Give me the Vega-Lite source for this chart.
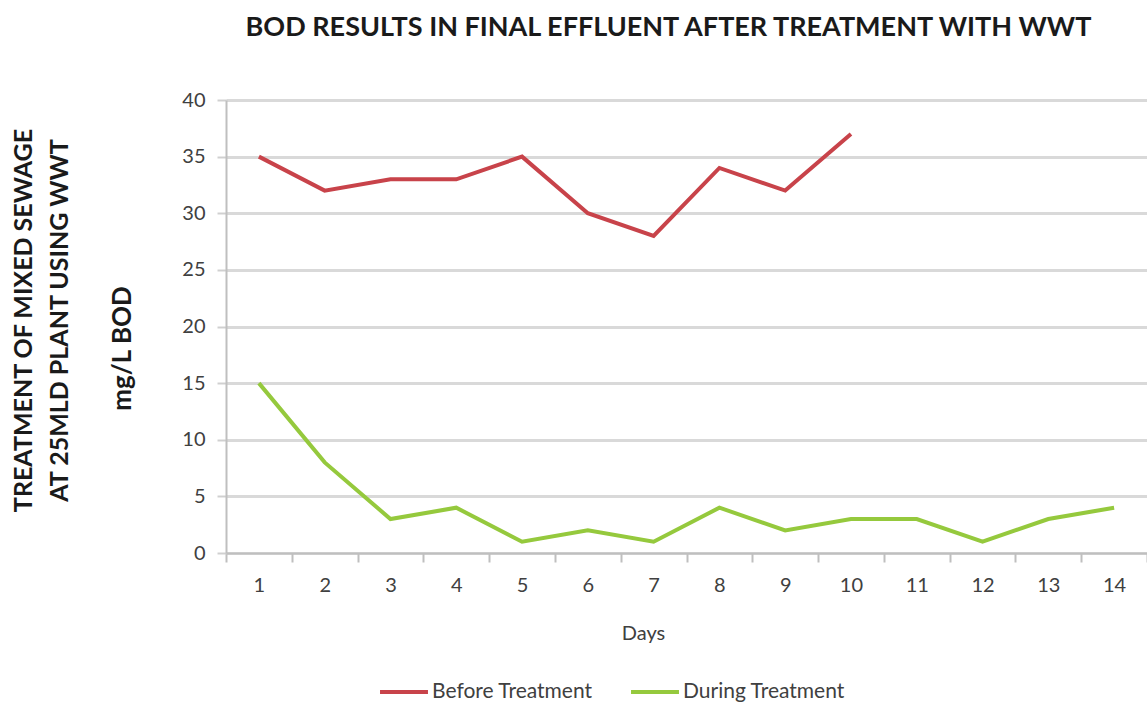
{
  "$schema": "https://vega.github.io/schema/vega-lite/v6.json",
  "autosize": "none",
  "width": 921,
  "height": 453,
  "padding": {"left": 226, "top": 100, "right": 0, "bottom": 152},
  "background": "white",
  "config": {
    "view": {"stroke": null},
    "font": "Lato"
  },
  "title": {
    "text": "BOD RESULTS IN FINAL EFFLUENT  AFTER TREATMENT WITH WWT",
    "font": "Lato",
    "fontSize": 27,
    "fontWeight": "bold",
    "color": "#1a1a1a",
    "anchor": "middle",
    "dx": -18,
    "offset": 48
  },
  "data": {
    "values": [
      {"day": "1", "series": "Before Treatment", "bod": 35},
      {"day": "2", "series": "Before Treatment", "bod": 32},
      {"day": "3", "series": "Before Treatment", "bod": 33},
      {"day": "4", "series": "Before Treatment", "bod": 33},
      {"day": "5", "series": "Before Treatment", "bod": 35},
      {"day": "6", "series": "Before Treatment", "bod": 30},
      {"day": "7", "series": "Before Treatment", "bod": 28},
      {"day": "8", "series": "Before Treatment", "bod": 34},
      {"day": "9", "series": "Before Treatment", "bod": 32},
      {"day": "10", "series": "Before Treatment", "bod": 37},
      {"day": "1", "series": "During Treatment", "bod": 15},
      {"day": "2", "series": "During Treatment", "bod": 8},
      {"day": "3", "series": "During Treatment", "bod": 3},
      {"day": "4", "series": "During Treatment", "bod": 4},
      {"day": "5", "series": "During Treatment", "bod": 1},
      {"day": "6", "series": "During Treatment", "bod": 2},
      {"day": "7", "series": "During Treatment", "bod": 1},
      {"day": "8", "series": "During Treatment", "bod": 4},
      {"day": "9", "series": "During Treatment", "bod": 2},
      {"day": "10", "series": "During Treatment", "bod": 3},
      {"day": "11", "series": "During Treatment", "bod": 3},
      {"day": "12", "series": "During Treatment", "bod": 1},
      {"day": "13", "series": "During Treatment", "bod": 3},
      {"day": "14", "series": "During Treatment", "bod": 4}
    ]
  },
  "resolve": {"axis": {"y": "independent"}},
  "layer": [
    {
      "mark": {"type": "line", "strokeWidth": 4, "strokeJoin": "miter"},
      "encoding": {
        "x": {
          "field": "day",
          "type": "ordinal",
          "sort": ["1","2","3","4","5","6","7","8","9","10","11","12","13","14"],
          "scale": {"type": "band", "paddingInner": 0, "paddingOuter": 0},
          "axis": {
            "title": "Days",
            "titleFont": "Lato",
            "titleFontSize": 20,
            "titleFontWeight": "normal",
            "titleColor": "#404040",
            "titleX": 417,
            "titleY": 70,
            "labelAngle": 0,
            "labelFont": "Lato",
            "labelFontSize": 20,
            "labelColor": "#404040",
            "labelPadding": 13,
            "tickBand": "extent",
            "tickSize": 9,
            "tickWidth": 2,
            "tickColor": "#bfbfbf",
            "domainColor": "#bfbfbf",
            "domainWidth": 2,
            "grid": false
          }
        },
        "y": {
          "field": "bod",
          "type": "quantitative",
          "scale": {"domain": [0, 40], "nice": false},
          "axis": {
            "values": [0, 5, 10, 15, 20, 25, 30, 35, 40],
            "title": ["TREATMENT OF MIXED SEWAGE", "AT 25MLD PLANT USING WWT"],
            "titleFont": "Lato",
            "titleFontSize": 25,
            "titleFontWeight": "bold",
            "titleColor": "#1a1a1a",
            "titleLineHeight": 36,
            "titleAngle": -90,
            "titleAlign": "center",
            "titleBaseline": "middle",
            "titleX": -203,
            "titleY": 220,
            "labelFont": "Lato",
            "labelFontSize": 20,
            "labelColor": "#404040",
            "labelPadding": 12,
            "tickSize": 9,
            "tickWidth": 2,
            "tickColor": "#d0d0d0",
            "domainColor": "#bfbfbf",
            "domainWidth": 2,
            "grid": true,
            "gridColor": "#d9d9d9",
            "gridWidth": 3
          }
        },
        "color": {
          "field": "series",
          "type": "nominal",
          "scale": {"domain": ["Before Treatment", "During Treatment"], "range": ["#c8434a", "#95c93d"]},
          "legend": {
            "title": null,
            "orient": "none",
            "direction": "horizontal",
            "legendX": 152,
            "legendY": 566,
            "symbolType": "stroke",
            "symbolSize": 2300,
            "symbolStrokeWidth": 4,
            "labelFont": "Lato",
            "labelFontSize": 21,
            "labelColor": "#404040",
            "labelLimit": 400,
            "labelOffset": 2,
            "columnPadding": 30
          }
        }
      }
    },
    {
      "mark": {"type": "line", "strokeOpacity": 0},
      "encoding": {
        "x": {
          "field": "day",
          "type": "ordinal",
          "sort": ["1","2","3","4","5","6","7","8","9","10","11","12","13","14"]
        },
        "detail": {"field": "series"},
        "y": {
          "field": "bod",
          "type": "quantitative",
          "axis": {
            "orient": "left",
            "title": "mg/L BOD",
            "titleFont": "Lato",
            "titleFontSize": 26,
            "titleFontWeight": "bold",
            "titleColor": "#1a1a1a",
            "titleAngle": -90,
            "titleAlign": "center",
            "titleBaseline": "middle",
            "titleX": -104,
            "titleY": 248,
            "labels": false,
            "ticks": false,
            "domain": false,
            "grid": false
          }
        }
      }
    }
  ]
}
